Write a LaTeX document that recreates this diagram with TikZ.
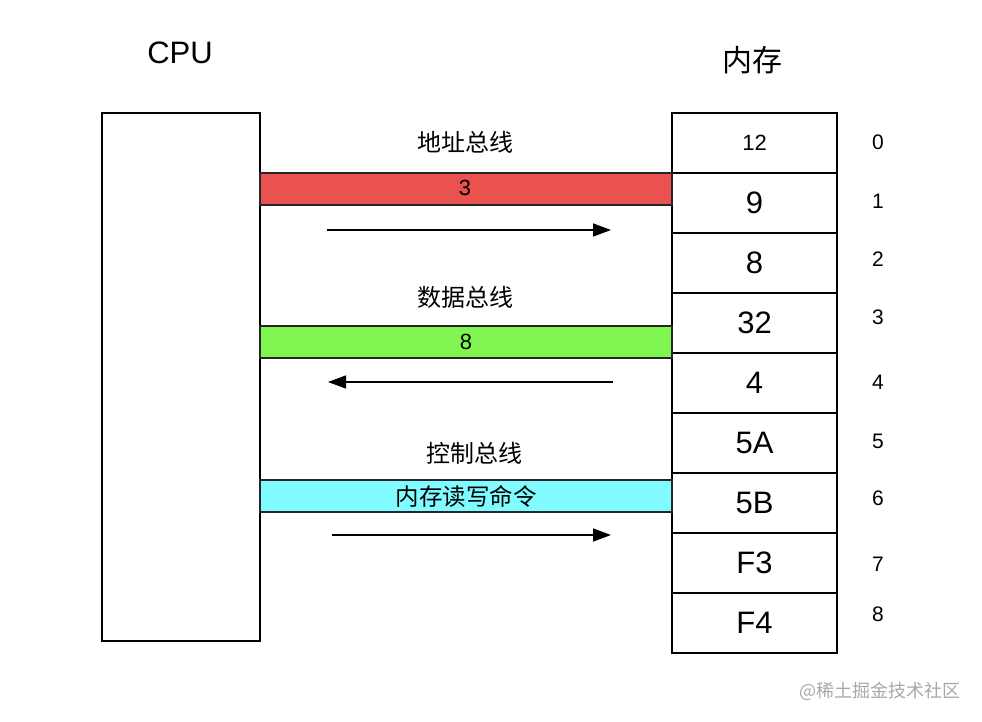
\documentclass[tikz,border=0pt]{standalone}
\usepackage{fontspec}
\setmainfont{Liberation Sans}
\newfontfamily\cjk{Noto Sans CJK SC}
\usetikzlibrary{arrows.meta}
\definecolor{busred}{HTML}{E9524E}
\definecolor{busgreen}{HTML}{80F552}
\definecolor{buscyan}{HTML}{80FBFF}
\definecolor{wmgray}{HTML}{A8A8A8}
\begin{document}
\begin{tikzpicture}[x=1pt,y=-1pt,
  box/.style={draw=black,line width=2pt,inner sep=0pt,outer sep=0pt},
  cpubox/.style={box,minimum width=158pt,minimum height=528pt},
  cell/.style={box,minimum width=165pt,minimum height=60pt,font=\fontsize{31}{31}\selectfont},
  smallcell/.style={cell,font=\fontsize{22}{22}\selectfont},
  bar/.style={draw=black!85,line width=1.6pt,minimum width=412pt,minimum height=32pt,inner sep=0pt,outer sep=0pt},
  bartext/.style={font=\fontsize{22}{22}\selectfont},
  barcjk/.style={font=\cjk\fontsize{23.5}{23.5}\selectfont},
  buslabel/.style={font=\cjk\fontsize{24}{24}\selectfont},
  idx/.style={font=\fontsize{21}{21}\selectfont},
  title/.style={font=\fontsize{31}{31}\selectfont},
  cjktitle/.style={font=\cjk\fontsize{30}{30}\selectfont},
  flow/.style={line width=1.4pt,-{Triangle[length=18pt,width=13pt]}}
]
\useasboundingbox (0,0) rectangle (982,722);

% titles
\node[title] (cputitle) at (180,53) {CPU};
\node[cjktitle] (memtitle) at (752,60) {内存};

% CPU box
\node[cpubox] (cpu) at (181,377) {};

% memory cells
\node[smallcell] (m0) at (754.5,143) {12};
\node[cell] (m1) at (754.5,203) {9};
\node[cell] (m2) at (754.5,263) {8};
\node[cell] (m3) at (754.5,323) {32};
\node[cell] (m4) at (754.5,383) {4};
\node[cell] (m5) at (754.5,443) {5A};
\node[cell] (m6) at (754.5,503) {5B};
\node[cell] (m7) at (754.5,563) {F3};
\node[cell] (m8) at (754.5,623) {F4};

% index labels
\node[idx] (i0) at (878,142) {0};
\node[idx] (i1) at (878,201) {1};
\node[idx] (i2) at (878,259) {2};
\node[idx] (i3) at (878,317) {3};
\node[idx] (i4) at (878,382) {4};
\node[idx] (i5) at (878,441) {5};
\node[idx] (i6) at (878,498) {6};
\node[idx] (i7) at (878,564) {7};
\node[idx] (i8) at (878,614) {8};

% buses
\node[buslabel] (l1) at (465,142) {地址总线};
\node[bar,fill=busred] (b1) at (466,189) {};
\node[bartext] at (465,188) {3};

\node[buslabel] (l2) at (465,297) {数据总线};
\node[bar,fill=busgreen] (b2) at (466,342) {};
\node[bartext] at (b2.center) {8};

\node[buslabel] (l3) at (474,453) {控制总线};
\node[bar,fill=buscyan] (b3) at (466,496) {};
\node[barcjk] at (b3.center) {内存读写命令};

% arrows
\coordinate (a1s) at (327,230);
\coordinate (a1e) at (611,230);
\coordinate (a2s) at (613,382);
\coordinate (a2e) at (328,382);
\coordinate (a3s) at (332,535);
\coordinate (a3e) at (611,535);
\draw[flow] (a1s) -- (a1e);
\draw[flow] (a2s) -- (a2e);
\draw[flow] (a3s) -- (a3e);

% watermark
\node[font=\cjk\fontsize{18}{18}\selectfont,text=wmgray] (wm) at (880,691) {@稀土掘金技术社区};
\end{tikzpicture}
\end{document}
